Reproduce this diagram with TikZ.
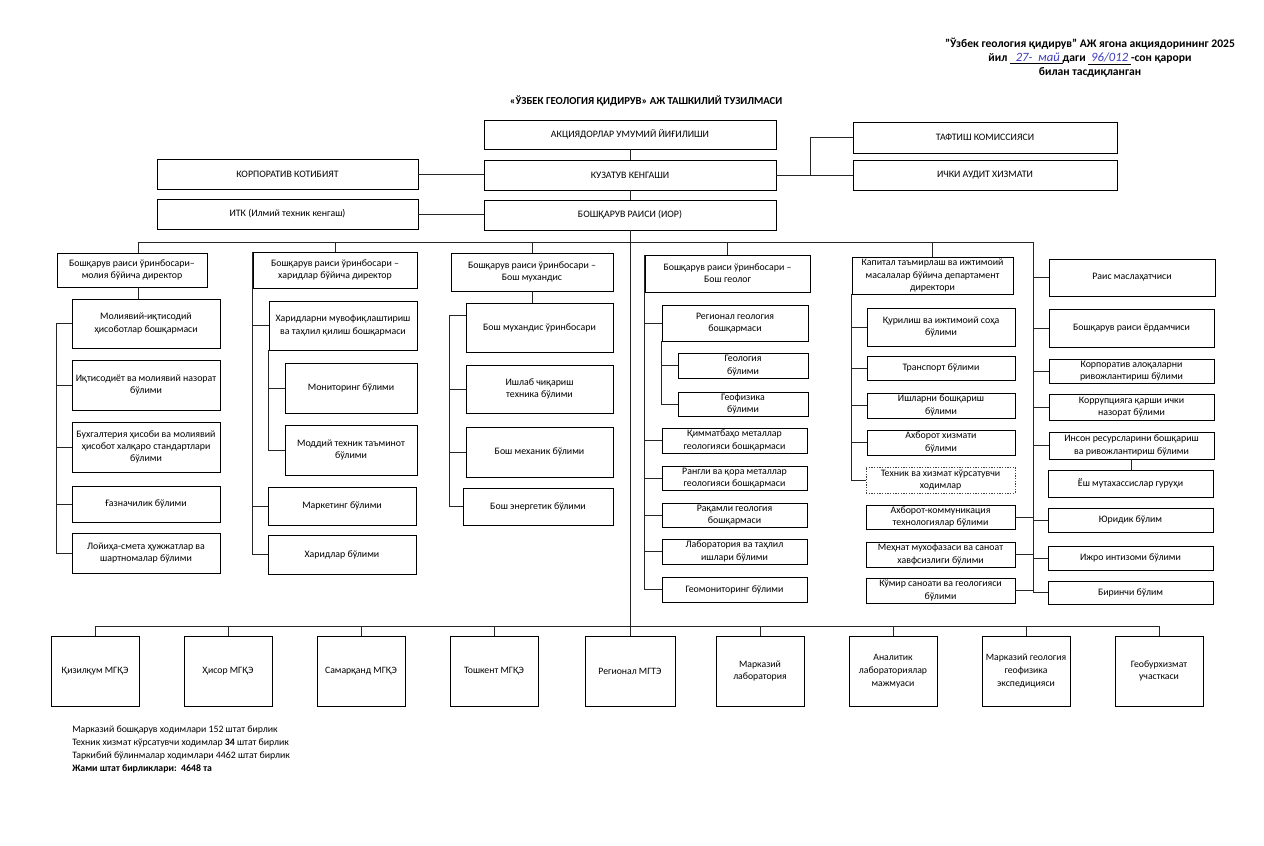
\documentclass[tikz,border=0pt]{standalone}
\usepackage{fontspec}
\setmainfont{Carlito}
\usetikzlibrary{calc}
\definecolor{hand}{RGB}{60,60,190}
\newcommand\bx[7][]{\node[box,#1,minimum width={(#5-#3)*0.75pt},minimum height={(#6-#4)*0.75pt}] (#2) at ({(#3+#5)/2},{(#4+#6)/2}) {#7};}
\begin{document}
\begin{tikzpicture}[x=0.75pt,y=-0.75pt,
 box/.style={draw=black,line width=0.6pt,inner sep=0pt,align=center,font=\fontsize{7.4}{9.2}\selectfont},
 sbox/.style={font=\fontsize{7.3}{9.6}\selectfont},
 dbox/.style={dash pattern=on 1pt off 1pt,draw=black!75},
 ln/.style={draw=black!85,line width=0.6pt}]
\path[use as bounding box,fill=white] (0,0) rectangle (1264,846);

% header
\node[font=\bfseries\fontsize{8.7}{10.5}\selectfont,align=center] (hdr) at (1090,58)
 {"Ўзбек геология қидирув" АЖ ягона акциядорининг 2025\\
  йил \underline{\textcolor{hand}{\normalfont\itshape\fontsize{9.5}{10}\selectfont\ \ 27-\ \ май\ }}даги \underline{\textcolor{hand}{\normalfont\itshape\fontsize{9.5}{10}\selectfont\ 96/012\ }}-сон қарори\\
  билан тасдиқланган};
\node[font=\bfseries\fontsize{8}{9}\selectfont] (title) at (646,101) {«ЎЗБЕК ГЕОЛОГИЯ ҚИДИРУВ» АЖ ТАШКИЛИЙ ТУЗИЛМАСИ};

% top level
\bx{aksiya}{484}{120}{776}{149}{АКЦИЯДОРЛАР УМУМИЙ ЙИҒИЛИШИ}
\bx{kuzat}{484}{160}{776}{190}{КУЗАТУВ КЕНГАШИ}
\bx{ior}{484}{200}{776}{230}{БОШҚАРУВ РАИСИ (ИОР)}
\bx{korp}{157}{159}{418}{189}{КОРПОРАТИВ КОТИБИЯТ}
\bx{itk}{157}{199}{418}{229}{ИТК (Илмий техник кенгаш)}
\bx{taft}{853}{122}{1117}{153}{ТАФТИШ КОМИССИЯСИ}
\bx{audit}{853}{160}{1117}{190}{ИЧКИ АУДИТ ХИЗМАТИ}

% column 1
\bx{d1}{57}{253}{207}{287}{Бошқарув раиси ўринбосари–\\молия бўйича директор}
\bx{b11}{72}{299}{220}{348}{Молиявий-иқтисодий\\ҳисоботлар бошқармаси}
\bx{b12}{72}{360}{220}{410}{Иқтисодиёт ва молиявий назорат\\бўлими}
\bx{b13}{72}{422}{220}{472}{Бухгалтерия ҳисоби  ва молиявий\\ҳисобот халқаро стандартлари\\бўлими}
\bx{b14}{72}{486}{220}{522}{Ғазначилик бўлими}
\bx{b15}{72}{533}{220}{573}{Лойиҳа-смета ҳужжатлар ва\\шартномалар бўлими}

% column 2
\bx{d2}{253}{252}{417}{288}{Бошқарув раиси ўринбосари –\\харидлар бўйича директор}
\bx{b21}{269}{301}{417}{350}{Харидларни мувофиқлаштириш\\ва таҳлил қилиш бошқармаси}
\bx{b22}{285}{363}{417}{413}{Мониторинг бўлими}
\bx{b23}{285}{425}{417}{475}{Моддий техник таъминот\\бўлими}
\bx{b24}{268}{487}{416}{525}{Маркетинг бўлими}
\bx{b25}{268}{535}{416}{574}{Харидлар бўлими}

% column 3
\bx{d3}{451}{253}{613}{291}{Бошқарув раиси ўринбосари –\\Бош мухандис}
\bx{b31}{466}{303}{613}{352}{Бош мухандис ўринбосари}
\bx{b32}{466}{365}{613}{413}{Ишлаб чиқариш\\техника бўлими}
\bx{b33}{466}{427}{613}{477}{Бош механик бўлими}
\bx{b34}{463}{488}{613}{525}{Бош энергетик бўлими}

% column 4
\bx{d4}{645}{255}{810}{292}{Бошқарув раиси ўринбосари –\\Бош геолог}
\bx{b41}{662}{305}{808}{341}{Регионал геология\\бошқармаси}
\bx{b42}{678}{353}{808}{378}{Геология\\бўлими}
\bx{b43}{678}{392}{808}{416}{Геофизика\\бўлими}
\bx{b44}{662}{428}{807}{453}{Қимматбаҳо металлар\\геологияси бошқармаси}
\bx{b45}{662}{466}{807}{490}{Рангли ва қора металлар\\геологияси бошқармаси}
\bx{b46}{662}{503}{807}{527}{Рақамли геология\\бошқармаси}
\bx{b47}{662}{539}{807}{564}{Лаборатория ва таҳлил\\ишлари бўлими}
\bx{b48}{662}{577}{807}{602}{Геомониторинг бўлими}

% column 5
\bx{d5}{852}{257}{1013}{294}{Капитал таъмирлаш ва ижтимоий\\масалалар бўйича департамент\\директори}
\bx{b51}{867}{308}{1015}{346}{Қурилиш ва ижтимоий соҳа\\бўлими}
\bx{b52}{867}{356}{1015}{380}{Транспорт бўлими}
\bx{b53}{867}{393}{1015}{418}{Ишларни бошқариш\\бўлими}
\bx{b54}{867}{430}{1015}{455}{Ахборот хизмати\\бўлими}
\bx[dbox]{b55}{866}{467}{1015}{493}{Техник ва хизмат кўрсатувчи\\ходимлар}
\bx{b56}{866}{505}{1015}{529}{Ахборот-коммуникация\\технологиялар бўлими}
\bx{b57}{866}{542}{1015}{567}{Меҳнат мухофазаси ва саноат\\хавфсизлиги бўлими}
\bx{b58}{866}{578}{1015}{603}{Кўмир саноати ва геологияси\\бўлими}

% column 6
\bx{b61}{1049}{259}{1215}{296}{Раис маслаҳатчиси}
\bx{b62}{1049}{309}{1214}{347}{Бошқарув раиси ёрдамчиси}
\bx{b63}{1049}{359}{1214}{383}{Корпоратив алоқаларни\\ривожлантириш бўлими}
\bx{b64}{1049}{394}{1214}{420}{Коррупцияга қарши  ички\\назорат бўлими}
\bx{b65}{1049}{432}{1214}{459}{Инсон ресурсларини бошқариш\\ва ривожлантириш бўлими}
\bx{b66}{1048}{470}{1213}{497}{Ёш мутахассислар гуруҳи}
\bx{b67}{1048}{508}{1213}{532}{Юридик  бўлим}
\bx{b68}{1048}{546}{1213}{570}{Ижро интизоми бўлими}
\bx{b69}{1048}{581}{1213}{604}{Биринчи бўлим}

% bottom row
\bx[sbox]{m1}{51}{636}{139}{706}{Қизилқум МГҚЭ}
\bx[sbox]{m2}{184}{636}{272}{706}{Ҳисор МГҚЭ}
\bx[sbox]{m3}{317}{636}{405}{706}{Самарқанд МГҚЭ}
\bx[sbox]{m4}{450}{636}{538}{706}{Тошкент МГҚЭ}
\bx[sbox]{m5}{585}{636}{675}{706}{Регионал МГТЭ}
\bx[sbox]{m6}{716}{636}{804}{706}{Марказий\\лаборатория}
\bx[sbox]{m7}{849}{636}{937}{706}{Аналитик\\лабораториялар\\мажмуаси}
\bx[sbox]{m8}{982}{636}{1070}{706}{Марказий геология\\геофизика\\экспедицияси}
\bx[sbox]{m9}{1115}{636}{1203}{706}{Геобурхизмат\\участкаси}

% footer text
\node[anchor=north west,align=left,inner sep=0pt,font=\fontsize{7.35}{9.75}\selectfont] (foot) at (72,726)
 {Марказий бошқарув ходимлари 152 штат бирлик\\
  Техник хизмат кўрсатувчи ходимлар \textbf{34} штат бирлик\\
  Таркибий бўлинмалар ходимлари 4462 штат бирлик\\
  \textbf{Жами штат бирликлари:\ \ 4648 та}};

% coordinates
\coordinate (busL) at (138,242);
\coordinate (busR) at (1033,242);
\coordinate (bb) at (0,626);
\coordinate (tv) at (810,0);
\coordinate (s1) at (56,0);
\coordinate (s3) at (449,0);

% top connectors
\draw[ln] (aksiya.south) -- (kuzat.north);
\draw[ln] (kuzat.south) -- (ior.north);
\draw[ln] (ior.south) -- (ior.south |- m5.north);
\draw[ln] (korp.east) -- (korp.east -| kuzat.west);
\draw[ln] (itk.east) -- (itk.east -| ior.west);
\draw[ln] (kuzat.east) -- (audit.west);
\draw[ln] (tv |- audit.west) |- (taft.west);

% director bus
\draw[ln] (busL) -- (busR);
\draw[ln] (busL) -- (busL |- d1.north);
\draw[ln] (d2.north |- busL) -- (d2.north);
\draw[ln] (d3.north |- busL) -- (d3.north);
\draw[ln] (d4.north |- busL) -- (d4.north);
\draw[ln] (d5.north |- busL) -- (d5.north);

% column 1
\draw[ln] (busL |- d1.south) -- (busL |- b11.north);
\draw[ln] (b11.west) -- (s1 |- b11.west) -- (s1 |- b15.west) -- (b15.west);
\foreach \n in {b12,b13,b14} \draw[ln] (\n.west) -- (s1 |- \n.west);

% column 2
\draw[ln] (d2.north west) -- (d2.north west |- b25.west) -- (b25.west);
\foreach \n in {b21,b24} \draw[ln] (\n.west) -- (d2.north west |- \n.west);
\draw[ln] (b21.south west) -- (b21.south west |- b23.west) -- (b23.west);
\draw[ln] (b22.west) -- (b21.south west |- b22.west);

% column 3
\draw[ln] (d3.south) -- (d3.south |- b31.north);
\coordinate (t31) at ($(b31.north west)!0.25!(b31.south west)$);
\draw[ln] (t31) -- (s3 |- t31) -- (s3 |- b34.west) -- (b34.west);
\foreach \n in {b32,b33} \draw[ln] (\n.west) -- (s3 |- \n.west);

% column 4
\draw[ln] (d4.north west) -- (d4.north west |- b48.west) -- (b48.west);
\foreach \n in {b41,b44,b45,b46,b47} \draw[ln] (\n.west) -- (d4.north west |- \n.west);
\draw[ln] (b41.south west) -- (b41.south west |- b43.west) -- (b43.west);
\draw[ln] (b42.west) -- (b41.south west |- b42.west);

% column 5
\draw[ln] (d5.south west) -- (d5.south west |- b55.west) -- (b55.west);
\foreach \n in {b51,b52,b53,b54} \draw[ln] (\n.west) -- (d5.south west |- \n.west);

% column 6
\draw[ln] (busR) -- (busR |- b69.west) -- (b69.west);
\foreach \n in {b61,b62,b63,b64,b65,b67,b68} \draw[ln] (\n.west) -- (busR |- \n.west);
\foreach \n in {b56,b57,b58} \draw[ln] (\n.east) -- (busR |- \n.east);
\draw[ln] (b65.south) -- (b65.south |- b66.north);

% bottom bus
\draw[ln] (m1.north |- bb) -- (m9.north |- bb);
\foreach \n in {m1,m2,m3,m4,m6,m7,m8,m9} \draw[ln] (\n.north |- bb) -- (\n.north);
\end{tikzpicture}
\end{document}
